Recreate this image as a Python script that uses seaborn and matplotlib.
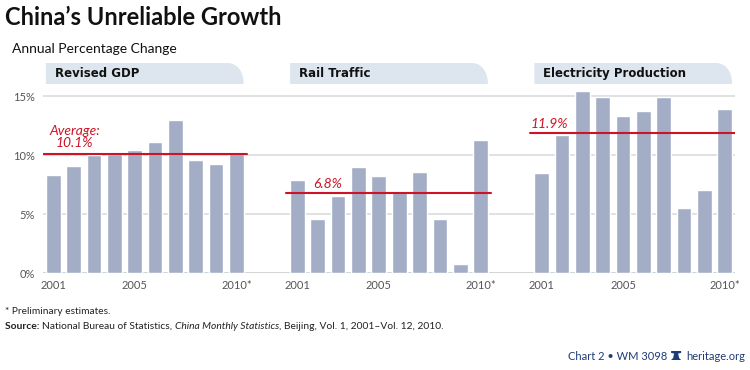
import numpy as np
import pandas as pd
import matplotlib.pyplot as plt
import matplotlib.transforms as mtransforms
from matplotlib.path import Path
from matplotlib.patches import PathPatch, Polygon
import seaborn as sns

# Data
years = ["2001", "2002", "2003", "2004", "2005", "2006", "2007", "2008", "2009", "2010*"]
panels = ["Revised GDP", "Rail Traffic", "Electricity Production"]
gdp = [8.3, 9.1, 10.0, 10.1, 10.4, 11.1, 13.0, 9.6, 9.2, 10.2]
rail = [7.9, 4.6, 6.5, 9.0, 8.2, 6.9, 8.6, 4.6, 0.8, 11.3]
power = [8.5, 11.7, 15.4, 14.9, 13.3, 13.7, 14.9, 5.5, 7.0, 13.9]
averages = [10.1, 6.8, 11.9]
avg_labels = ["Average:\n10.1%", "6.8%", "11.9%"]
shown_years = ["2001", "2005", "2010*"]

sns.set_style("white")
plt.rcParams["font.family"] = ["Lato", "DejaVu Sans"]

bar_color = "#a3adc6"
red = "#cc1426"
tab_color = "#dde6ee"
gap = 12

rows = []
for g, vals in enumerate([gdp, rail, power]):
    for i, v in enumerate(vals):
        rows.append({"panel": panels[g], "year": years[i], "pos": g * gap + i, "value": v})
df = pd.DataFrame(rows)

fig = plt.figure(figsize=(7.5, 3.7), dpi=100)
ax = fig.add_axes([43 / 750, 1 - 273 / 370, (735 - 43) / 750, (273 - 89) / 370])

sns.barplot(data=df, x="pos", y="value", native_scale=True, width=0.72,
            color=bar_color, saturation=1, ax=ax, zorder=3)

ax.set_xlim(-0.5, 33.5)
ax.set_ylim(0, 15.6)
ax.set_yticks([0, 5, 10, 15])
ax.set_yticklabels(["0%", "5%", "10%", "15%"])
ax.yaxis.grid(True, color="#dcdcdc", linewidth=1.2, zorder=0)
ax.set_axisbelow(True)
for s in ax.spines.values():
    s.set_visible(False)
ax.axhline(0, color="#d4d4d4", linewidth=1.4, zorder=1)

ticks = []
labels = []
for g in range(3):
    for y in shown_years:
        ticks.append(g * gap + years.index(y))
        labels.append(y)
ax.set_xticks(ticks)
ax.set_xticklabels(labels)
ax.tick_params(axis="both", length=0, labelsize=8, colors="#555555")
ax.tick_params(axis="y", pad=6)
ax.tick_params(axis="x", pad=5)
ax.set_xlabel("")
ax.set_ylabel("")

# average lines and labels
label_pos = [(1.05, 10.5), (13.5, 7.05), (24.4, 12.1)]
for g, a in enumerate(averages):
    ax.plot([g * gap - 0.55, g * gap + 9.5], [a, a], color=red, linewidth=1.5, zorder=4)
    lx, ly = label_pos[g]
    ax.text(lx, ly, avg_labels[g], color=red, fontsize=10, style="italic",
            ha="center", va="bottom", linespacing=1.0, zorder=5)

# header tabs above each panel
blend = mtransforms.blended_transform_factory(ax.transData, fig.transFigure)
y0, y1 = 1 - 84 / 370, 1 - 63 / 370
for g, name in enumerate(panels):
    xl, xr = g * gap - 0.36, g * gap + 9.36
    r = 0.8
    verts = [(xl, y0), (xl, y1), (xr - r, y1),
             (xr - r * 0.35, y1), (xr, y1 - (y1 - y0) * 0.45), (xr, y0),
             (xl, y0)]
    codes = [Path.MOVETO, Path.LINETO, Path.LINETO,
             Path.CURVE4, Path.CURVE4, Path.CURVE4, Path.CLOSEPOLY]
    fig.patches.append(PathPatch(Path(verts, codes), facecolor=tab_color,
                                 edgecolor="none", transform=blend))
    fig.text(xl + 0.44, (y0 + y1) / 2, name, transform=blend, fontsize=8.5,
             fontweight="bold", color="#111111", va="center", ha="left",
             family=["DejaVu Sans"])

# titles
fig.text(5 / 750, 1 - 25 / 370, "China\u2019s Unreliable Growth", fontsize=17,
         fontweight="bold", va="baseline", ha="left", color="#111111")
fig.text(12 / 750, 1 - 53 / 370, "Annual Percentage Change", fontsize=10,
         va="baseline", ha="left", color="#111111")

# footer
renderer = fig.canvas.get_renderer()


def run_text(x, y, runs, **kw):
    for s, props in runs:
        t = fig.text(x, y, s, **kw, **props)
        x += t.get_window_extent(renderer).width / fig.bbox.width
    return x


fig.text(5 / 750, 1 - 314 / 370, "* Preliminary estimates.", fontsize=7.3,
         color="#222222", va="baseline")
run_text(5 / 750, 1 - 329 / 370,
         [("Source: ", {"fontweight": "bold"}),
          ("National Bureau of Statistics, ", {}),
          ("China Monthly Statistics", {"style": "italic"}),
          (", Beijing, Vol. 1, 2001\u2013Vol. 12, 2010.", {})],
         fontsize=7.4, color="#222222", va="baseline")

blue = "#1f3c78"
t_site = fig.text(745 / 750, 1 - 360 / 370, "heritage.org", fontsize=8,
                  color=blue, ha="right", va="baseline")
bb = t_site.get_window_extent(renderer)
bx = bb.x0 - 10
by = 370 - 360
bell = Polygon([(bx - 5, by), (bx + 5, by), (bx + 3, by + 2), (bx + 2, by + 6.5),
                (bx + 5, by + 7), (bx + 5, by + 9), (bx - 5, by + 9), (bx - 5, by + 7),
                (bx - 2, by + 6.5), (bx - 3, by + 2)],
               closed=True, facecolor=blue, edgecolor="none", transform=None)
fig.patches.append(bell)
fig.text((bx - 9) / 750, 1 - 360 / 370, "Chart 2 \u2022 WM 3098", fontsize=8,
         color=blue, ha="right", va="baseline")

fig.savefig("out.png", dpi=100)
